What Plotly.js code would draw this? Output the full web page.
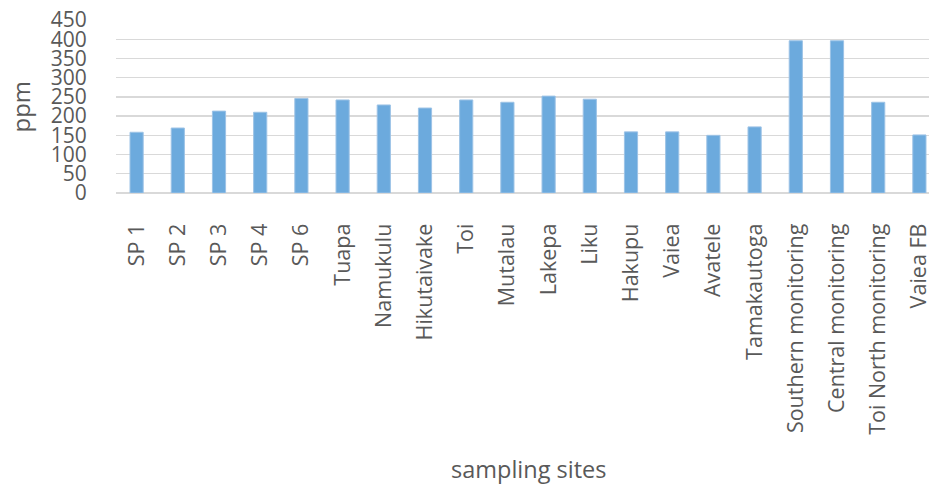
<!DOCTYPE html>
<html>
<head>
<meta charset="utf-8">
<script src="https://cdn.plot.ly/plotly-3.0.1.min.js"></script>
<style>html,body{margin:0;padding:0;overflow:hidden;background:#fff;width:929px;height:486px;}</style>
</head>
<body>
<div id="chart" style="width:940px;height:486px;"></div>
<script>
const sites = ["SP 1","SP 2","SP 3","SP 4","SP 6","Tuapa","Namukulu","Hikutaivake","Toi","Mutalau","Lakepa","Liku","Hakupu","Vaiea","Avatele","Tamakautoga","Southern monitoring","Central monitoring","Toi North monitoring","Vaiea FB"];
const ppm = [158,169,213,210,246,242,229,221,242,236,252,244,159,159,150,172,396,396,236,151];
const yTicks = [0,50,100,150,200,250,300,350,400,450];

const FONT = "'Open Sans', 'Noto Sans', sans-serif";
const GREY = "#595959";

const trace = {
  type: "bar",
  x: sites,
  y: ppm,
  marker: {color: "#6CAADD", line: {color: "#9DC3E6", width: 1}},
  hoverinfo: "x+y"
};

const layout = {
  width: 940,
  height: 486,
  margin: {l: 116, r: 0, t: 20, b: 293},
  paper_bgcolor: "#fff",
  plot_bgcolor: "#fff",
  bargap: 0.68,
  showlegend: false,
  font: {family: FONT, color: GREY, size: 20},
  xaxis: {
    type: "category",
    tickangle: -90,
    tickfont: {family: FONT, size: 21.5, color: GREY},
    ticks: "outside",
    ticklen: 21,
    tickcolor: "rgba(0,0,0,0)",
    showline: false,
    showgrid: false,
    zeroline: false,
    automargin: false
  },
  yaxis: {
    range: [0, 450],
    tickvals: yTicks,
    ticktext: yTicks.map(String),
    tickfont: {family: FONT, size: 21, color: GREY},
    ticks: "outside",
    ticklen: 24,
    tickcolor: "rgba(0,0,0,0)",
    showgrid: true,
    gridcolor: "#D9D9D9",
    gridwidth: 1.4,
    zeroline: true,
    zerolinecolor: "#D9D9D9",
    zerolinewidth: 1.4,
    showline: false,
    automargin: false
  },
  annotations: [
    {text: "ppm", xref: "paper", yref: "paper", x: 0, y: 0.5, xshift: -96, xanchor: "center", yanchor: "middle",
     textangle: -90, showarrow: false, font: {family: FONT, size: 24, color: GREY}},
    {text: "sampling sites", xref: "paper", yref: "paper", x: 0.5, y: 0, yshift: -276, xanchor: "center", yanchor: "middle",
     showarrow: false, font: {family: FONT, size: 23.5, color: GREY}}
  ]
};

Plotly.newPlot("chart", [trace], layout, {displayModeBar: false, staticPlot: true});
</script>
</body>
</html>
